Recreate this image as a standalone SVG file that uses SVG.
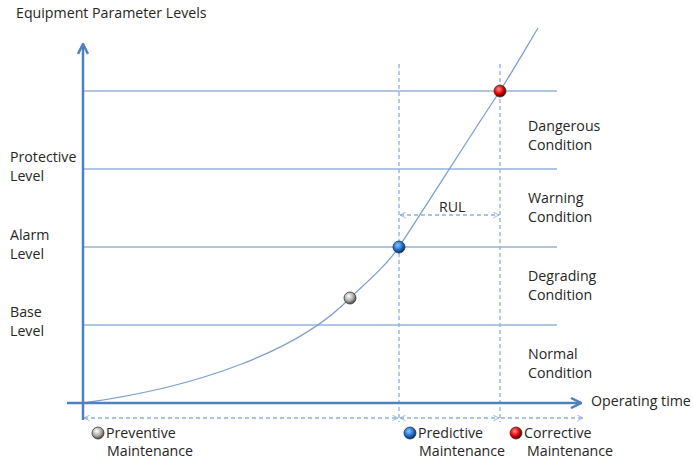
<svg xmlns="http://www.w3.org/2000/svg" width="693" height="459" viewBox="0 0 693 459">
<style>
text{font-family:"Open Sans","Liberation Sans",sans-serif;font-size:14.2px;fill:#262626}
.grid{stroke:#95B3D7;stroke-width:1.5;fill:none}
.axis{stroke:#4F81BD;stroke-width:2.5;fill:none}
.dash{stroke:#8DB0DC;stroke-width:1.3;stroke-dasharray:4 3;fill:none}
.curve{stroke:#7F9FCF;stroke-width:1.3;fill:none}
</style>
<defs>
<marker id="ah" viewBox="0 0 10 10" refX="9" refY="5" markerWidth="5" markerHeight="5" orient="auto-start-reverse" markerUnits="strokeWidth"><path d="M1,1 L9,5 L1,9" fill="none" stroke="#4F81BD" stroke-width="2"/></marker>
<marker id="dh" viewBox="0 0 10 10" refX="9" refY="5" markerWidth="7" markerHeight="7" orient="auto-start-reverse" markerUnits="userSpaceOnUse"><path d="M1,1 L9,5 L1,9" fill="none" stroke="#8DB0DC" stroke-width="1.3"/></marker>
<radialGradient id="gGrey" cx="0.4" cy="0.35" r="0.65"><stop offset="0" stop-color="#ffffff"/><stop offset="0.6" stop-color="#a9a9a9"/><stop offset="1" stop-color="#4a4a4a"/></radialGradient>
<radialGradient id="gBlue" cx="0.4" cy="0.35" r="0.65"><stop offset="0" stop-color="#8fc3ff"/><stop offset="0.6" stop-color="#1f6fc8"/><stop offset="1" stop-color="#0b2d5a"/></radialGradient>
<radialGradient id="gRed" cx="0.4" cy="0.35" r="0.65"><stop offset="0" stop-color="#ff8a8a"/><stop offset="0.6" stop-color="#e00000"/><stop offset="1" stop-color="#5a0000"/></radialGradient>
</defs>
<g id="grid">
<line class="grid" x1="83" y1="91" x2="557" y2="91"/>
<line class="grid" x1="83" y1="169" x2="557" y2="169"/>
<line class="grid" x1="83" y1="247" x2="557" y2="247"/>
<line class="grid" x1="83" y1="325" x2="557" y2="325"/>
</g>
<g id="connectors">
<line class="dash" x1="399" y1="64" x2="399" y2="422"/>
<line class="dash" x1="500" y1="64" x2="500" y2="422"/>
<line class="dash" x1="84" y1="418" x2="398" y2="418" marker-start="url(#dh)" marker-end="url(#dh)"/>
<line class="dash" x1="400" y1="418" x2="499" y2="418" marker-start="url(#dh)" marker-end="url(#dh)"/>
<line class="dash" x1="501" y1="418" x2="583" y2="418" marker-end="url(#dh)"/>
<line class="dash" x1="400" y1="215" x2="499" y2="215" marker-start="url(#dh)" marker-end="url(#dh)"/>
<path class="curve" d="M83,403 C200,387 300,350 350,298 C368,281 385,267 399,247 C430,200 470,136 500,91 C512,72 526,48 538,28"/>
</g>
<g id="axes">
<line class="axis" x1="83" y1="44" x2="83" y2="420" marker-start="url(#ah)"/>
<line class="axis" x1="67" y1="403" x2="581" y2="403" marker-end="url(#ah)"/>
</g>
<g id="labels">
<text x="16" y="18">Equipment Parameter Levels</text>
<text x="10" y="162">Protective</text><text x="10" y="181">Level</text>
<text x="10" y="240">Alarm</text><text x="10" y="259">Level</text>
<text x="10" y="317">Base</text><text x="10" y="336">Level</text>
<text x="528" y="131">Dangerous</text><text x="528" y="150">Condition</text>
<text x="528" y="203">Warning</text><text x="528" y="222">Condition</text>
<text x="528" y="281">Degrading</text><text x="528" y="300">Condition</text>
<text x="528" y="359">Normal</text><text x="528" y="378">Condition</text>
<text x="439" y="212">RUL</text>
<text x="591" y="406">Operating time</text>
</g>
<g id="markers">
<circle cx="350" cy="298" r="6" fill="url(#gGrey)" stroke="#333" stroke-width="0.8"/>
<circle cx="399" cy="247" r="6" fill="url(#gBlue)" stroke="#1a3550" stroke-width="0.8"/>
<circle cx="500" cy="91" r="6" fill="url(#gRed)" stroke="#333" stroke-width="0.8"/>
</g>
<g id="legend">
<circle cx="98" cy="433" r="6" fill="url(#gGrey)" stroke="#333" stroke-width="0.8"/>
<text x="106" y="438">Preventive</text><text x="107" y="456">Maintenance</text>
<circle cx="410" cy="433" r="6" fill="url(#gBlue)" stroke="#1a3550" stroke-width="0.8"/>
<text x="418" y="438">Predictive</text><text x="419" y="456">Maintenance</text>
<circle cx="516" cy="433" r="6" fill="url(#gRed)" stroke="#333" stroke-width="0.8"/>
<text x="524" y="438">Corrective</text><text x="527" y="456">Maintenance</text>
</g>
</svg>
